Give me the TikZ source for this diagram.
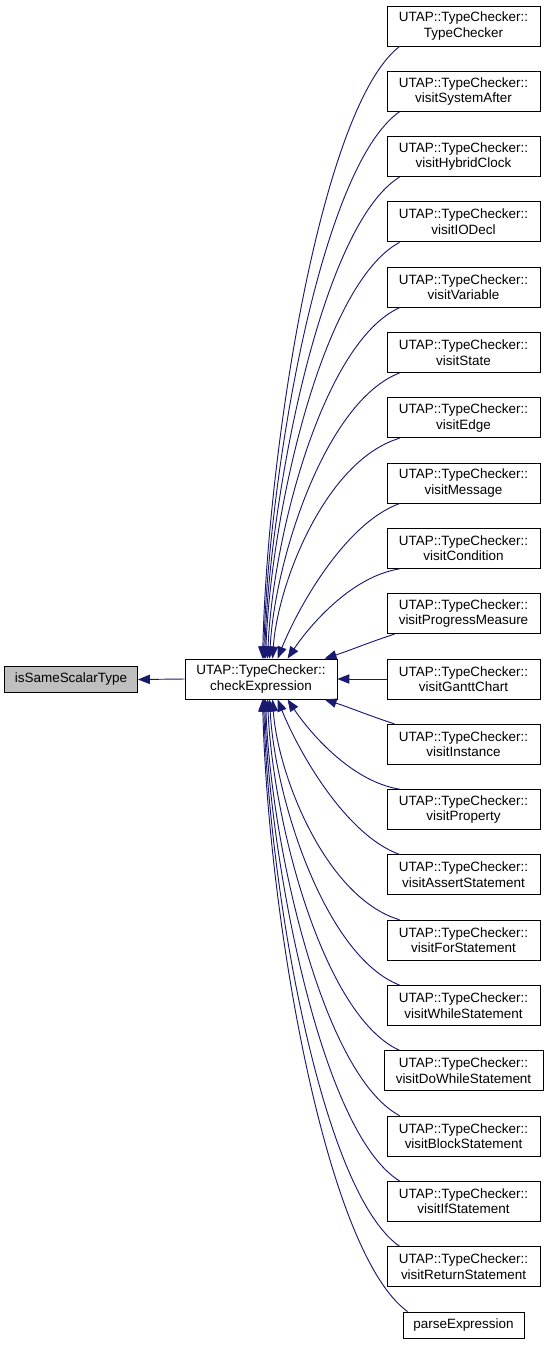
\documentclass[tikz,border=0pt]{standalone}
\usepackage{fontspec}
\setmainfont{Liberation Sans}
\usetikzlibrary{arrows.meta,calc}

\definecolor{callblue}{RGB}{25,25,112}
\definecolor{rootgray}{RGB}{191,191,191}

\tikzset{
  fn/.style={draw=black, line width=0.65pt, fill=white, align=center, inner xsep=0pt, inner ysep=0pt,
    minimum width=114.75pt, minimum height=30pt, font=\fontsize{10.1}{11.6}\selectfont},
  fnone/.style={fn, minimum height=19.5pt},
  call/.style={draw=callblue, line width=0.7pt, -{Triangle[length=9pt,width=7pt]}}
}

\begin{document}
\begin{tikzpicture}[x=0.75pt,y=0.75pt,yscale=-1,xscale=1]
\useasboundingbox (0,0) rectangle (547,1345); %set diagram to 547 x 1345

% Text Node
\draw (71,679.5) node [fnone, fill=rootgray, minimum width=99.75pt] (same) {isSameScalarType};
% Text Node
\draw (261,679) node [fn, minimum width=114pt] (chk) {UTAP::TypeChecker::\\checkExpression};

% Text Node
\draw (463.5,26) node [fn] (tcc) {UTAP::TypeChecker::\\TypeChecker};
% Text Node
\draw (463.5,91.3) node [fn] (sysafter) {UTAP::TypeChecker::\\visitSystemAfter};
% Text Node
\draw (463.5,156.6) node [fn] (hybrid) {UTAP::TypeChecker::\\visitHybridClock};
% Text Node
\draw (463.5,221.9) node [fn] (iodecl) {UTAP::TypeChecker::\\visitIODecl};
% Text Node
\draw (463.5,287.2) node [fn] (variable) {UTAP::TypeChecker::\\visitVariable};
% Text Node
\draw (463.5,352.5) node [fn] (state) {UTAP::TypeChecker::\\visitState};
% Text Node
\draw (463.5,417.8) node [fn] (vedge) {UTAP::TypeChecker::\\visitEdge};
% Text Node
\draw (463.5,483.1) node [fn] (message) {UTAP::TypeChecker::\\visitMessage};
% Text Node
\draw (463.5,548.4) node [fn] (cond) {UTAP::TypeChecker::\\visitCondition};
% Text Node
\draw (463.5,613.7) node [fn] (progress) {UTAP::TypeChecker::\\visitProgressMeasure};
% Text Node
\draw (463.5,679) node [fn] (gantt) {UTAP::TypeChecker::\\visitGanttChart};
% Text Node
\draw (463.5,744.3) node [fn] (inst) {UTAP::TypeChecker::\\visitInstance};
% Text Node
\draw (463.5,809.6) node [fn] (prop) {UTAP::TypeChecker::\\visitProperty};
% Text Node
\draw (463.5,874.9) node [fn] (assertst) {UTAP::TypeChecker::\\visitAssertStatement};
% Text Node
\draw (463.5,940.2) node [fn] (forst) {UTAP::TypeChecker::\\visitForStatement};
% Text Node
\draw (463.5,1005.5) node [fn] (whilest) {UTAP::TypeChecker::\\visitWhileStatement};
% Text Node
\draw (463.5,1070.8) node [fn, minimum width=119.25pt] (dowhile) {UTAP::TypeChecker::\\visitDoWhileStatement};
% Text Node
\draw (463.5,1136.1) node [fn] (block) {UTAP::TypeChecker::\\visitBlockStatement};
% Text Node
\draw (463.5,1201.4) node [fn] (ifst) {UTAP::TypeChecker::\\visitIfStatement};
% Text Node
\draw (463.5,1266.7) node [fn] (retst) {UTAP::TypeChecker::\\visitReturnStatement};
% Text Node
\draw (463.5,1325) node [fnone, minimum width=90.75pt] (parse) {parseExpression};

%Straight Lines
\draw [call] (chk.west) -- (same.east);
%Straight Lines
\draw [call] (gantt.west) -- (chk.east);

%Curve Lines
\draw [call] ($(tcc.south west)+(13,0)$) .. controls +(-79,61) and +(5,-208) .. ($(chk.north west)+(78,0)$);
%Curve Lines
\draw [call] ($(sysafter.south west)+(13,0)$) .. controls +(-79,55) and +(5,-186) .. ($(chk.north west)+(79,0)$);
%Curve Lines
\draw [call] ($(hybrid.south west)+(13,0)$) .. controls +(-78,48) and +(5,-164) .. ($(chk.north west)+(80,0)$);
%Curve Lines
\draw [call] ($(iodecl.south west)+(13,0)$) .. controls +(-78,42) and +(5,-142) .. ($(chk.north west)+(81,0)$);
%Curve Lines
\draw [call] ($(variable.south west)+(13,0)$) .. controls +(-77,35) and +(5,-120) .. ($(chk.north west)+(83,0)$);
%Curve Lines
\draw [call] ($(state.south west)+(13,0)$) .. controls +(-75,29) and +(5,-97) .. ($(chk.north west)+(85,0)$);
%Curve Lines
\draw [call] ($(vedge.south west)+(13,0)$) .. controls +(-74,22) and +(5,-75) .. ($(chk.north west)+(88,0)$);
%Curve Lines
\draw [call] ($(message.south west)+(13,0)$) .. controls +(-55,20) and +(20,-50) .. ($(chk.north west)+(93,0)$);
%Curve Lines
\draw [call] ($(cond.south west)+(13,0)$) .. controls +(-50,8) and +(20,-30) .. ($(chk.north west)+(103,0)$);
%Curve Lines
\draw [call] ($(progress.south west)+(8,0)$) .. controls +(-25,8) and +(25,-8) .. ($(chk.north west)+(140,0)$);

%Curve Lines
\draw [call] ($(inst.north west)+(8,0)$) .. controls +(-25,-8) and +(25,8) .. ($(chk.south west)+(140,0)$);
%Curve Lines
\draw [call] ($(prop.north west)+(13,0)$) .. controls +(-50,-8) and +(20,30) .. ($(chk.south west)+(103,0)$);
%Curve Lines
\draw [call] ($(assertst.north west)+(13,0)$) .. controls +(-55,-20) and +(20,50) .. ($(chk.south west)+(93,0)$);
%Curve Lines
\draw [call] ($(forst.north west)+(13,0)$) .. controls +(-74,-22) and +(5,75) .. ($(chk.south west)+(88,0)$);
%Curve Lines
\draw [call] ($(whilest.north west)+(13,0)$) .. controls +(-75,-29) and +(5,97) .. ($(chk.south west)+(85,0)$);
%Curve Lines
\draw [call] ($(dowhile.north west)+(16,0)$) .. controls +(-77,-35) and +(5,120) .. ($(chk.south west)+(83,0)$);
%Curve Lines
\draw [call] ($(block.north west)+(13,0)$) .. controls +(-78,-42) and +(5,142) .. ($(chk.south west)+(81,0)$);
%Curve Lines
\draw [call] ($(ifst.north west)+(13,0)$) .. controls +(-78,-48) and +(5,164) .. ($(chk.south west)+(80,0)$);
%Curve Lines
\draw [call] ($(retst.north west)+(13,0)$) .. controls +(-79,-55) and +(5,186) .. ($(chk.south west)+(79,0)$);
%Curve Lines
\draw [call] ($(parse.north west)+(5,0)$) .. controls +(-84,-61) and +(5,208) .. ($(chk.south west)+(78,0)$);

\end{tikzpicture}
\end{document}
